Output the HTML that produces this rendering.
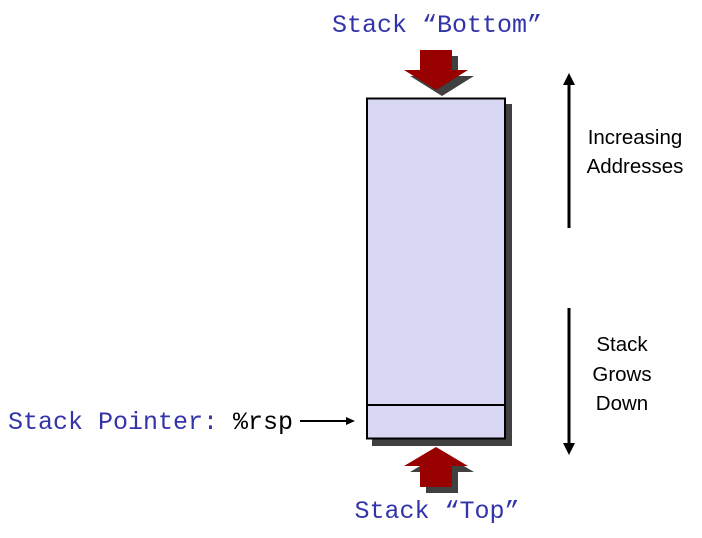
<!DOCTYPE html>
<html><head><style>
html,body{margin:0;padding:0;background:#fff;}
body{width:702px;height:538px;overflow:hidden;position:relative;}
</style></head><body>
<svg width="702" height="538" viewBox="0 0 702 538" xmlns="http://www.w3.org/2000/svg" style="position:absolute;left:0;top:0">
<rect x="372" y="104" width="140" height="342" fill="#404040"/>
<rect x="367" y="98.5" width="138" height="340" fill="#d8d8f4" stroke="#000" stroke-width="2"/>
<line x1="367" y1="405" x2="505" y2="405" stroke="#000" stroke-width="2"/>
<polygon points="426,56 458,56 458,76 474,76 442,96 410,76 426,76" fill="#404040"/>
<polygon points="420,50 452,50 452,70 468,70 436,90 404,70 420,70" fill="#990000"/>
<polygon points="442,453 474,472 458,472 458,493 426,493 426,472 410,472" fill="#404040"/>
<polygon points="436,447 468,466 452,466 452,487 420,487 420,466 404,466" fill="#990000"/>
<line x1="300" y1="421" x2="347" y2="421" stroke="#000" stroke-width="2"/>
<polygon points="355,421 346,417 346,425" fill="#000"/>
<line x1="569" y1="82" x2="569" y2="228" stroke="#000" stroke-width="3"/>
<polygon points="569,73 563,85 575,85" fill="#000"/>
<line x1="569" y1="308" x2="569" y2="446" stroke="#000" stroke-width="3"/>
<polygon points="569,455 563,443 575,443" fill="#000"/>
<g font-family="Liberation Mono, monospace" font-size="25">
<text x="437" y="32" text-anchor="middle" fill="#3333aa">Stack “Bottom”</text>
<text x="437" y="518" text-anchor="middle" fill="#3333aa">Stack “Top”</text>
<text x="8" y="429" fill="#3333aa">Stack Pointer: <tspan fill="#000">%rsp</tspan></text>
</g>
<g font-family="Liberation Sans, sans-serif" font-size="20.5" fill="#000" text-anchor="middle">
<text x="635" y="144">Increasing</text>
<text x="635" y="173">Addresses</text>
<text x="622" y="351">Stack</text>
<text x="622" y="381">Grows</text>
<text x="622" y="410">Down</text>
</g>
</svg>
</body></html>
